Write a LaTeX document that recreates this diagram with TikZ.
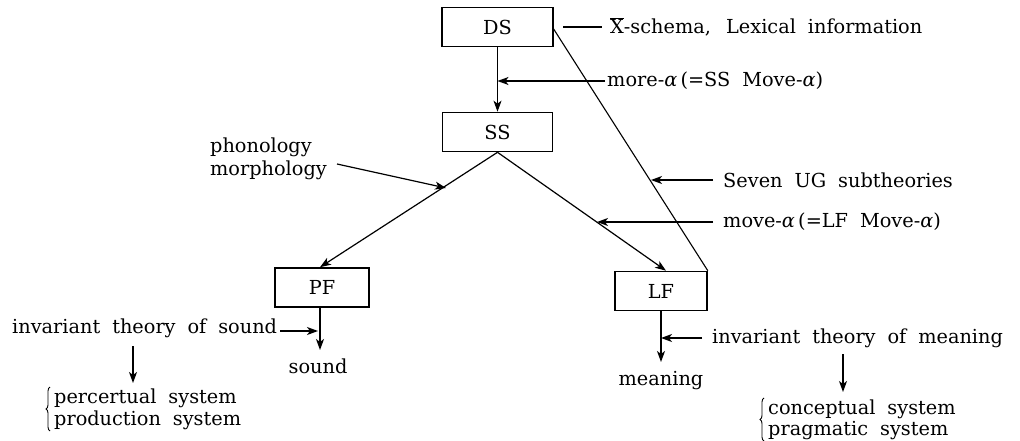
\documentclass[tikz,border=0pt]{standalone}
\usepackage{fontspec}
\setmainfont{DejaVu Serif}
\usetikzlibrary{arrows.meta,decorations.pathreplacing}
\newcommand\diagfont{\fontsize{19.3}{22.5}\selectfont\spaceskip=0.62em plus 0.1em minus 0.05em\relax}
\newcommand\al{\textit{α}}
\begin{document}
\begin{tikzpicture}[x=1pt,y=-1pt,
  font=\diagfont,
  lbl/.style={anchor=west,inner sep=0pt},
  cbox/.style={draw,line width=1.6pt,minimum width=94pt,minimum height=39pt,inner sep=0pt},
  arr/.style={line width=1.2pt,-{Stealth[length=11pt,width=8pt,inset=3pt]}},
  ln/.style={line width=1.1pt},
  brc/.style={decorate,decoration={brace,amplitude=4pt},line width=0.9pt}]
\useasboundingbox (0,0) rectangle (1020,441);
% boxes
\node[cbox,minimum width=111pt] (DS) at (497.5,27) {DS};
\node[cbox,minimum width=110pt] (SS) at (497.5,132) {SS};
\node[cbox] (PF) at (322,287.5) {PF};
\node[cbox,minimum width=92pt] (LF) at (661,291) {LF};
% main connectors
\draw[arr] (DS.south) -- (SS.north);
\draw[arr] (SS.south) -- ([xshift=-2pt]PF.north);
\draw[arr] (SS.south) -- ([xshift=5pt]LF.north);
\coordinate (dsr) at (553,28);
\draw[ln] (dsr) -- (LF.north east);
% labels top
\node[lbl] (xbar) at (610,27) {$\overline{\mbox{X}}$-schema,\, Lexical information};
\coordinate (xl) at (563,27);
\draw[ln] (xl) -- ([xshift=-8pt]xbar.west);
\node[lbl] (more) at (607,81) {more-\al\,(=SS Move-\al)};
\coordinate (moret) at (497.5,81);
\draw[arr] ([xshift=-2pt]more.west) -- (moret);
\node[lbl] (seven) at (723,180) {Seven UG subtheories};
\coordinate (sevent) at (651,180);
\draw[arr] ([xshift=-10pt]seven.west) -- (sevent);
\node[lbl] (move) at (723,222) {move-\al\,(=LF Move-\al)};
\coordinate (movet) at (597,222);
\draw[arr] ([xshift=-10pt]move.west) -- (movet);
% phonology
\node[anchor=north west,inner sep=0pt,align=left] (phon) at (210,138) {phonology\\morphology};
\coordinate (phs) at (337,164);
\coordinate (pht) at (446,188);
\draw[arr] (phs) -- (pht);
% PF side
\node[inner sep=0pt] (sound) at (318,366) {sound};
\coordinate (pfb) at (320,350);
\draw[arr] ([xshift=-2pt]PF.south) -- (pfb);
\node[lbl] (its) at (12,328) {invariant theory of sound};
\coordinate (itst) at (318,331);
\draw[arr] ([xshift=3pt,yshift=-3pt]its.east) -- (itst);
\coordinate (itsd) at (133,346);
\coordinate (itsd2) at (133,383);
\draw[arr] (itsd) -- (itsd2);
\node[lbl] (perc) at (54,398) {percertual system};
\node[lbl] (prod) at (54,420) {production system};
\coordinate (b1a) at (50,431);
\coordinate (b1b) at (50,387);
\draw[brc] (b1a) -- (b1b);
% LF side
\node[inner sep=0pt] (mean) at (661,381) {meaning};
\coordinate (lfb) at (661,362);
\draw[arr] (LF.south) -- (lfb);
\node[lbl] (itm) at (712,338) {invariant theory of meaning};
\coordinate (itmt) at (661,338);
\draw[arr] ([xshift=-10pt]itm.west) -- (itmt);
\coordinate (itmd) at (843,354);
\coordinate (itmd2) at (843,392);
\draw[arr] (itmd) -- (itmd2);
\node[lbl] (conc) at (768,409) {conceptual system};
\node[lbl] (prag) at (768,431) {pragmatic system};
\coordinate (b2a) at (764,441);
\coordinate (b2b) at (764,398);
\draw[brc] (b2a) -- (b2b);
\end{tikzpicture}
\end{document}
